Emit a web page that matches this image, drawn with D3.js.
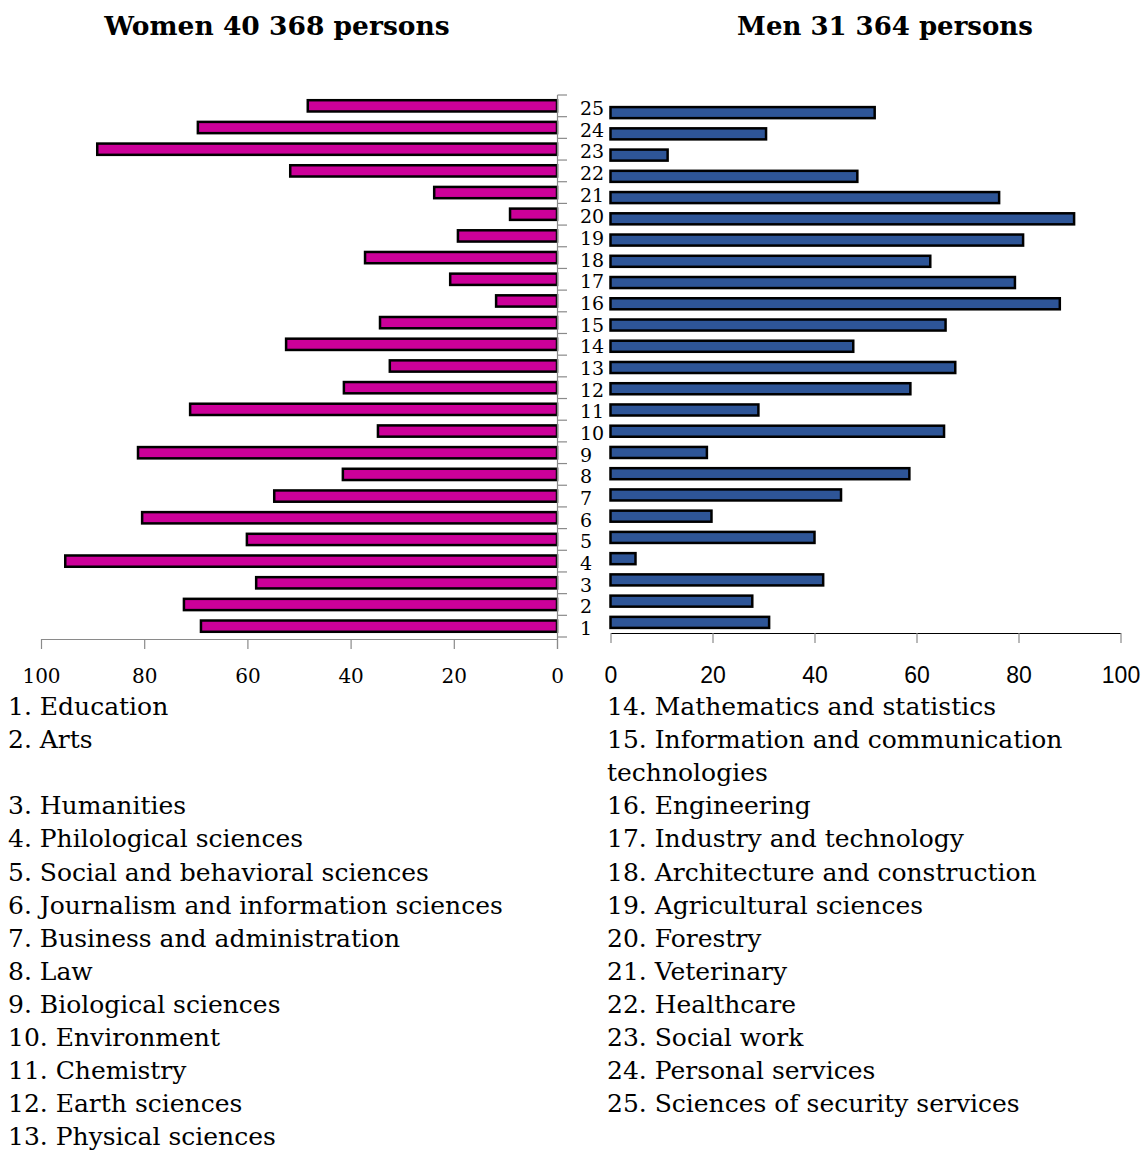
<!DOCTYPE html>
<html>
<head>
<meta charset="utf-8">
<script src="https://cdn.jsdelivr.net/npm/d3@7"></script>
<style>
body { margin: 0; background: #fff; }
svg { display: block; }
</style>
</head>
<body>
<svg width="1144" height="1153"></svg>
<script>
// field numbers, bottom (1) to top (25)
var fields = [1, 2, 3, 4, 5, 6, 7, 8, 9, 10, 11, 12, 13, 14, 15, 16, 17, 18, 19, 20, 21, 22, 23, 24, 25];

// share of women / men in each field, %
var women = [69.0, 72.3, 58.3, 95.3, 60.1, 80.4, 54.8, 41.5, 81.2, 34.7, 71.1, 41.3, 32.4,
             52.5, 34.3, 11.8, 20.7, 37.2, 19.2, 9.1, 23.8, 51.7, 89.1, 69.6, 48.3];
var men = [31.1, 27.8, 41.7, 4.9, 40.0, 19.8, 45.2, 58.6, 18.9, 65.4, 29.0, 58.8, 67.6,
           47.6, 65.7, 88.1, 79.3, 62.7, 80.9, 90.9, 76.2, 48.4, 11.2, 30.5, 51.8];

var tickVals = [0, 20, 40, 60, 80, 100];
var titles = ["Women 40 368 persons", "Men 31 364 persons"];

var legendLeft = ["1. Education", "2. Arts", "", "3. Humanities", "4. Philological sciences",
  "5. Social and behavioral sciences", "6. Journalism and information sciences",
  "7. Business and administration", "8. Law", "9. Biological sciences", "10. Environment",
  "11. Chemistry", "12. Earth sciences", "13. Physical sciences"];
var legendRight = ["14. Mathematics and statistics", "15. Information and communication",
  "technologies", "16. Engineering", "17. Industry and technology",
  "18. Architecture and construction", "19. Agricultural sciences", "20. Forestry",
  "21. Veterinary", "22. Healthcare", "23. Social work", "24. Personal services",
  "25. Sciences of security services"];

var serif = "'DejaVu Serif', Georgia, serif";
var sans = "'Liberation Sans', Arial, sans-serif";
var pink = "#cc0099", blue = "#2e5597", grey = "#8a8a8a";

var svg = d3.select("svg");

// titles
svg.append("text").attr("x", 277).attr("y", 35).attr("text-anchor", "middle")
  .attr("font-family", serif).attr("font-weight", "bold").attr("font-size", 26.5)
  .text(titles[0]);
svg.append("text").attr("x", 885).attr("y", 35).attr("text-anchor", "middle")
  .attr("font-family", serif).attr("font-weight", "bold").attr("font-size", 26)
  .text(titles[1]);

var order = fields.slice().reverse(); // 25 at top

// ---- women (left) ----
var xW = d3.scaleLinear().domain([0, 100]).range([557, 41]);
var yW = d3.scaleBand().domain(order).range([95, 637]).paddingInner(0.48).paddingOuter(0.24);
var yW0 = d3.scaleBand().domain(order).range([95, 637]);

var gW = svg.append("g");
gW.selectAll("rect")
  .data(fields)
  .enter().append("rect")
  .attr("x", function(d, i) { return xW(women[i]); })
  .attr("y", function(d) { return yW(d); })
  .attr("width", function(d, i) { return xW(0) - xW(women[i]); })
  .attr("height", yW.bandwidth())
  .attr("fill", pink)
  .attr("stroke", "#000")
  .attr("stroke-width", 2.5);

// vertical axis of the left chart, ticks between bands
gW.append("line").attr("x1", 557.5).attr("x2", 557.5).attr("y1", 95).attr("y2", 649)
  .attr("stroke", grey).attr("stroke-width", 1.2);
gW.selectAll(".bt")
  .data(order.concat(["end"]))
  .enter().append("line")
  .attr("class", "bt")
  .attr("x1", 557.5).attr("x2", 567)
  .attr("y1", function(d) { return d == "end" ? 637 : yW0(d); })
  .attr("y2", function(d) { return d == "end" ? 637 : yW0(d); })
  .attr("stroke", grey).attr("stroke-width", 1.2);

var axW = svg.append("g").attr("transform", "translate(0,639)")
  .call(d3.axisBottom(xW).tickValues(tickVals).tickSize(10).tickSizeOuter(0));
axW.select(".domain").attr("stroke", grey).attr("stroke-width", 1.2);
axW.selectAll(".tick line").attr("stroke", grey).attr("stroke-width", 1.2);
axW.selectAll(".tick text").attr("y", 44).attr("dy", null)
  .attr("font-family", serif).attr("font-size", 20).attr("fill", "#000");

// field numbers between the charts
svg.selectAll(".num")
  .data(fields)
  .enter().append("text")
  .attr("class", "num")
  .attr("x", 580)
  .attr("y", function(d) { return yW(d) + yW.bandwidth() / 2 + 9; })
  .attr("font-family", serif).attr("font-size", 19)
  .text(function(d) { return d; });

// ---- men (right) ----
var xM = d3.scaleLinear().domain([0, 100]).range([610.5, 1120.5]);
var yM = d3.scaleBand().domain(order).range([102, 633]).paddingInner(0.48).paddingOuter(0.24);

var gM = svg.append("g");
gM.selectAll("rect")
  .data(fields)
  .enter().append("rect")
  .attr("x", xM(0))
  .attr("y", function(d) { return yM(d); })
  .attr("width", function(d, i) { return xM(men[i]) - xM(0); })
  .attr("height", yM.bandwidth())
  .attr("fill", blue)
  .attr("stroke", "#000")
  .attr("stroke-width", 2.5);

var axM = svg.append("g").attr("transform", "translate(0,633)")
  .call(d3.axisBottom(xM).tickValues(tickVals).tickSize(10).tickSizeOuter(0));
axM.select(".domain").attr("stroke", "#000").attr("stroke-width", 1.2);
axM.selectAll(".tick line").attr("stroke", grey).attr("stroke-width", 1.2);
axM.selectAll(".tick text").attr("y", 50).attr("dy", null)
  .attr("font-family", sans).attr("font-size", 23).attr("fill", "#000");

// ---- legend ----
svg.selectAll(".legL")
  .data(legendLeft)
  .enter().append("text")
  .attr("class", "legL")
  .attr("x", 8)
  .attr("y", function(d, i) { return 715 + i * 33.1; })
  .attr("font-family", serif).attr("font-size", 25)
  .text(function(d) { return d; });

svg.selectAll(".legR")
  .data(legendRight)
  .enter().append("text")
  .attr("class", "legR")
  .attr("x", 607)
  .attr("y", function(d, i) { return 715 + i * 33.1; })
  .attr("font-family", serif).attr("font-size", 25)
  .text(function(d) { return d; });
</script>
</body>
</html>
